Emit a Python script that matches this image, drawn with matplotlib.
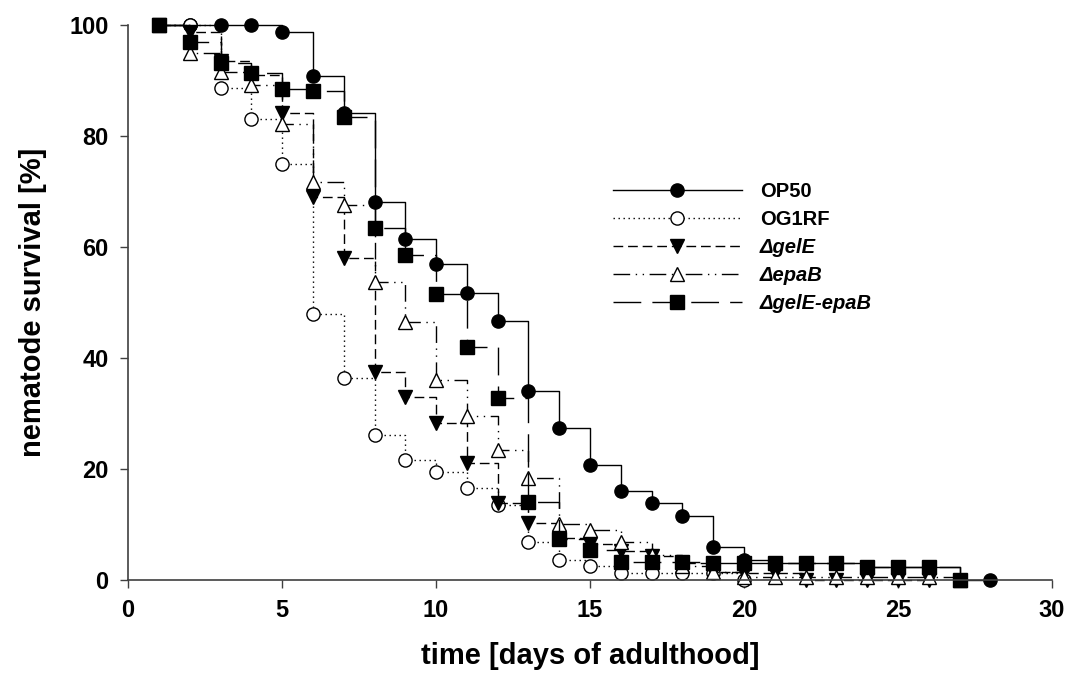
import numpy as np
import matplotlib.pyplot as plt

# survival data (days of adulthood, % surviving)
days = list(range(1, 29))

op50 = [100, 100, 100, 100, 98.7, 90.8, 84.1, 68.1, 61.4, 56.9, 51.7, 46.7, 34.1, 27.4,
        20.7, 16.0, 13.9, 11.5, 6.0, 3.6, 3.0, 3.0, 3.0, 2.4, 2.4, 2.4, 0, 0]
og1rf = [100, 100, 88.6, 83.1, 75.0, 47.9, 36.4, 26.2, 21.6, 19.4, 16.6, 13.5, 6.9, 3.6,
         2.5, 1.3, 1.3, 1.3, 1.2, 0]
gelE = [100, 98.7, 93.5, 91.0, 84.1, 69.1, 58.0, 37.5, 33.0, 28.3, 21.0, 13.8, 10.2, 7.5,
        6.5, 5.2, 4.3, 3.0, 1.5, 1.2, 1.2, 0, 0, 0, 0, 0]
epaB = [100, 95.0, 91.5, 89.2, 82.2, 71.7, 67.6, 53.7, 46.5, 36.0, 29.6, 23.4, 18.3, 10.1,
        9.0, 6.8, 4.5, 2.5, 1.5, 0.5, 0.5, 0.5, 0.5, 0.5, 0.5, 0.5, 0]
gelE_epaB = [100, 97.0, 93.1, 91.3, 88.4, 88.1, 83.4, 63.4, 58.5, 51.5, 42.0, 32.8, 14.1, 7.4,
             5.4, 3.2, 3.2, 3.2, 3.1, 3.1, 3.0, 3.0, 3.0, 2.4, 2.4, 2.4, 0]

labels = ['OP50', 'OG1RF', '\u0394gelE', '\u0394epaB', '\u0394gelE-epaB']

fig = plt.figure(figsize=(10.68, 6.78), dpi=100)
ax = fig.add_axes([0.12, 0.1445, 0.865, 0.8185])

lw = 1.0
ms = 9.5
common = dict(drawstyle='steps-post', color='black', lw=lw, ms=ms, clip_on=False,
              markeredgecolor='black', markeredgewidth=1.0)

series = [
    (op50, 'o', 'black', '-'),
    (og1rf, 'o', 'white', (0, (1, 2.6))),
    (gelE, 'v', 'black', (0, (7, 3.5))),
    (epaB, '^', 'white', (0, (12, 4, 1, 4, 1, 4))),
    (gelE_epaB, 's', 'black', (0, (20, 8))),
]

handles = []
for (vals, mk, fc, ls), lab in zip(series, labels):
    h, = ax.plot(days[:len(vals)], vals, marker=mk, markerfacecolor=fc,
                 linestyle=ls, label=lab, **common)
    handles.append(h)

ax.set_xlim(0, 30)
ax.set_ylim(0, 100)
ax.set_xticks([0, 5, 10, 15, 20, 25, 30])
ax.set_yticks([0, 20, 40, 60, 80, 100])

for s in ['top', 'right']:
    ax.spines[s].set_visible(False)
for s in ['left', 'bottom']:
    ax.spines[s].set_color('#404040')
    ax.spines[s].set_linewidth(1.2)

ax.tick_params(direction='out', length=6, width=1.0, color='#404040', pad=8)
for t in ax.get_xticklabels() + ax.get_yticklabels():
    t.set_fontfamily('Liberation Sans')
    t.set_fontweight('bold')
    t.set_fontsize(17)

ax.set_xlabel('time [days of adulthood]', fontsize=21, fontweight='bold',
              family='Liberation Sans', labelpad=14)
ax.set_ylabel('nematode survival [%]', fontsize=21, fontweight='bold',
              family='Liberation Sans', labelpad=16)

leg = ax.legend(handles=handles, loc='upper left', bbox_to_anchor=(0.505, 0.75),
                frameon=False, handlelength=6.4, handletextpad=0.9,
                labelspacing=0.45, prop=dict(family='Liberation Sans', weight='bold', size=14.5))
for t in leg.get_texts()[2:]:
    t.set_fontstyle('italic')

fig.savefig('out.png', dpi=100)
